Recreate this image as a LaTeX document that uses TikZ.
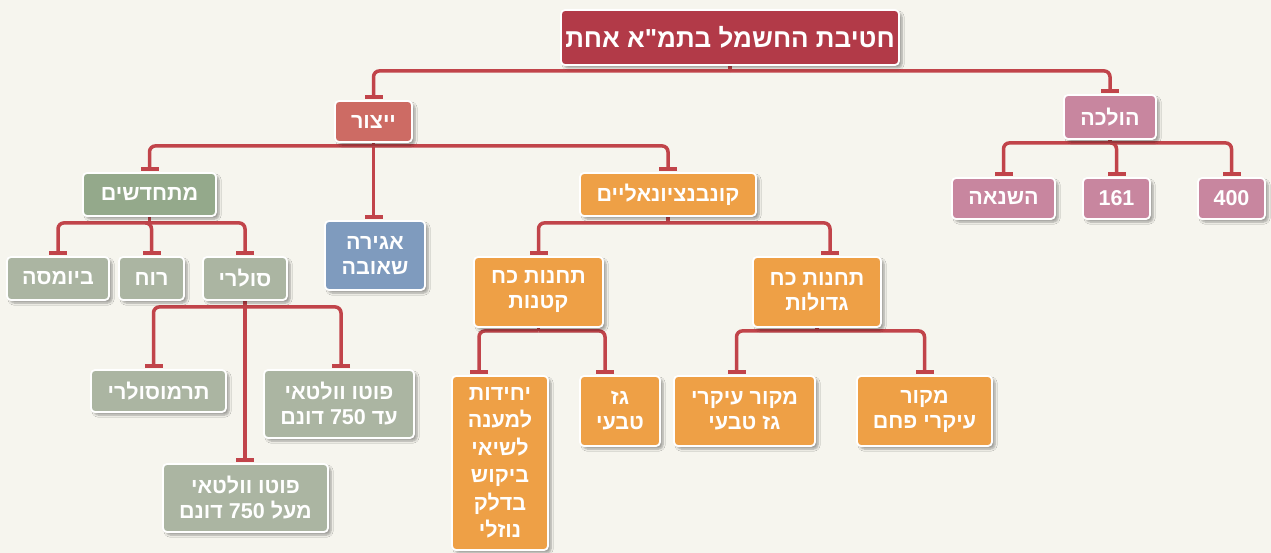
\documentclass[tikz,border=0pt]{standalone}
\usepackage{fontspec}
\setmainfont{Liberation Sans}
\newfontfamily\hebfont[Script=Hebrew]{Liberation Sans}
\TeXXeTstate=1
\usetikzlibrary{arrows.meta,shadows.blur,calc,backgrounds}
\definecolor{bgc}{HTML}{F6F5EE}
\definecolor{linered}{HTML}{C1444A}
\definecolor{titlec}{HTML}{B23A48}
\definecolor{yitzc}{HTML}{CD6B64}
\definecolor{pinkc}{HTML}{C8869F}
\definecolor{greenc}{HTML}{94A98B}
\definecolor{lgreenc}{HTML}{ABB5A2}
\definecolor{bluec}{HTML}{7F9BBE}
\definecolor{orangec}{HTML}{EEA046}
\newcommand\heb[1]{\beginR #1\endR}
\begin{document}
\begin{tikzpicture}[x=1pt,y=-1pt,
  box/.style={draw=white, line width=1.8pt, rounded corners=4pt, text=white,
    font=\hebfont\bfseries\fontsize{21.5}{25}\selectfont, align=center, inner sep=2pt,
    blur shadow={shadow xshift=3pt,shadow yshift=-3pt,shadow blur steps=6,shadow opacity=35}},
  conn/.style={draw=linered, line width=3.5pt, rounded corners=6pt, -{Bar[width=18pt]}, shorten >=1.5pt},
  stem/.style={draw=linered, line width=3.5pt}]
% nodes
\node[box, fill=titlec, minimum width=338, minimum height=55, font=\hebfont\bfseries\fontsize{26}{30}\selectfont] (title) at (730,37.5) {\heb{חטיבת החשמל בתמ"א אחת}};
\node[box, fill=yitzc, minimum width=77, minimum height=41] (yitz) at (373.5,121.5) {\heb{ייצור}};
\node[box, fill=pinkc, minimum width=92, minimum height=44] (hol) at (1110,117) {\heb{הולכה}};
\node[box, fill=greenc, minimum width=133, minimum height=43] (mit) at (149.5,194.5) {\heb{מתחדשים}};
\node[box, fill=bluec, minimum width=100, minimum height=69] (agi) at (375,255.5) {\heb{אגירה}\\\heb{שאובה}};
\node[box, fill=orangec, minimum width=176, minimum height=43] (konv) at (668,194.5) {\heb{קונבנציונאליים}};
\node[box, fill=lgreenc, minimum width=102, minimum height=43] (bio) at (58,278.5) {\heb{ביומסה}};
\node[box, fill=lgreenc, minimum width=65, minimum height=43] (ruach) at (151.5,278.5) {\heb{רוח}};
\node[box, fill=lgreenc, minimum width=84, minimum height=43] (sol) at (245,278.5) {\heb{סולרי}};
\node[box, fill=pinkc, minimum width=103, minimum height=41] (hash) at (1003.5,198.5) {\heb{השנאה}};
\node[box, fill=pinkc, minimum width=67, minimum height=41] (n161) at (1116.5,198.5) {161};
\node[box, fill=pinkc, minimum width=67, minimum height=41] (n400) at (1231.5,198.5) {400};
\node[box, fill=orangec, minimum width=129, minimum height=70] (ktan) at (538.5,292) {\heb{תחנות כח}\\\heb{קטנות}};
\node[box, fill=orangec, minimum width=128, minimum height=70] (gdol) at (817,292) {\heb{תחנות כח}\\\heb{גדולות}};
\node[box, fill=orangec, minimum width=96, minimum height=174, font=\hebfont\bfseries\fontsize{21.5}{27.5}\selectfont] (yech) at (500,463) {\heb{יחידות}\\\heb{למענה}\\\heb{לשיאי}\\\heb{ביקוש}\\\heb{בדלק}\\\heb{נוזלי}};
\node[box, fill=orangec, minimum width=80, minimum height=70] (gaz) at (620,411) {\heb{גז}\\\heb{טבעי}};
\node[box, fill=orangec, minimum width=141, minimum height=70] (gazm) at (744.5,411) {\heb{מקור עיקרי}\\\heb{גז טבעי}};
\node[box, fill=orangec, minimum width=135, minimum height=70] (pech) at (924.5,411) {\heb{מקור}\\\heb{עיקרי פחם}};
\node[box, fill=lgreenc, minimum width=135, minimum height=42] (termo) at (158.5,391) {\heb{תרמוסולרי}};
\node[box, fill=lgreenc, minimum width=150, minimum height=68] (pv1) at (339,404) {\heb{פוטו וולטאי}\\\heb{עד 750 דונם}};
\node[box, fill=lgreenc, minimum width=165, minimum height=68] (pv2) at (245.5,498) {\heb{פוטו וולטאי}\\\heb{מעל 750 דונם}};
% connectors
\begin{scope}[on background layer]
\fill[bgc] (0,0) rectangle (1271,553);
\path[use as bounding box] (0,0) rectangle (1271,553);
\draw[stem] (title.south) -- ++(0,5) coordinate (bt);
\draw[conn] (bt) -| (yitz.north);
\draw[conn] (bt) -| (hol.north);
\draw[stem] (yitz.south) -- ++(0,3) coordinate (by);
\draw[conn] (by) -| (mit.north);
\draw[conn] (by) -| (konv.north);
\draw[conn] (yitz.south) -- (yitz.south |- agi.north);
\draw[stem] (hol.south) -- ++(0,3) coordinate (bh);
\draw[conn] (bh) -| (hash.north);
\draw[conn] (bh) -| (n161.north);
\draw[conn] (bh) -| (n400.north);
\draw[stem] (mit.south) -- ++(0,6) coordinate (bm);
\draw[conn] (bm) -| (bio.north);
\draw[conn] (bm) -| (ruach.north);
\draw[conn] (bm) -| (sol.north);
\draw[stem] (konv.south) -- ++(0,6) coordinate (bk);
\draw[conn] (bk) -| (ktan.north);
\draw[conn] (bk) -| ($(gdol.north)+(13,0)$);
\draw[stem] (ktan.south) -- ++(0,3) coordinate (bkt);
\draw[conn] (bkt) -| ($(yech.north)+(-21,0)$);
\draw[conn] (bkt) -| ($(gaz.north)+(-15,0)$);
\draw[stem] (gdol.south) -- ++(0,3) coordinate (bg);
\draw[conn] (bg) -| ($(gazm.north)+(-8,0)$);
\draw[conn] (bg) -| (pech.north);
\draw[stem] (sol.south) -- ++(0,6) coordinate (bs);
\draw[conn] (bs) -| ($(termo.north)+(-5,0)$);
\draw[conn] (bs) -| ($(pv1.north)+(2,0)$);
\draw[conn] (sol.south) -- (sol.south |- pv2.north);
\end{scope}
\end{tikzpicture}
\end{document}
